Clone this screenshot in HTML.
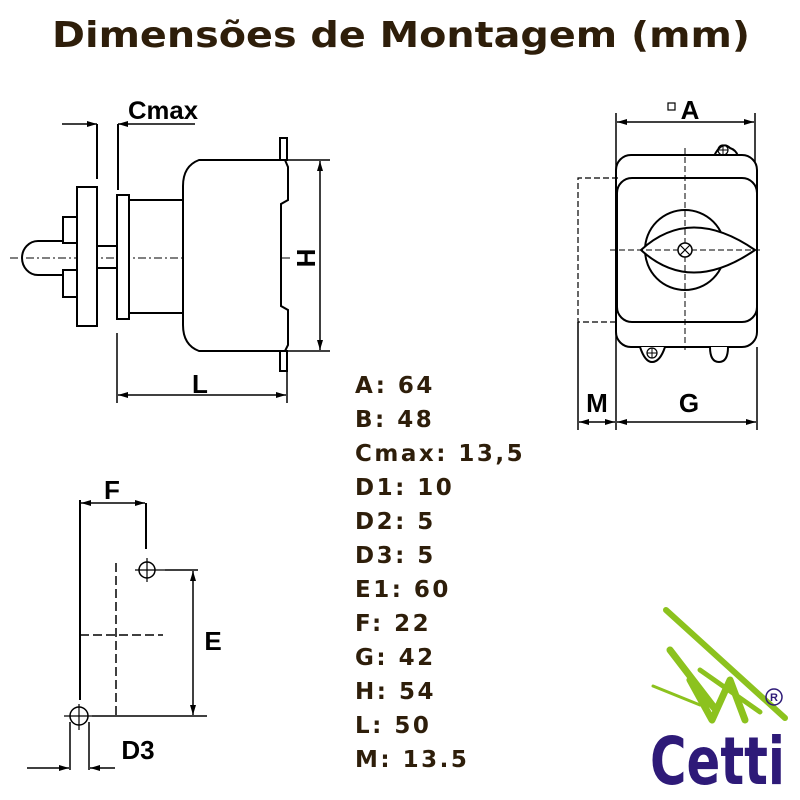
<!DOCTYPE html>
<html><head><meta charset="utf-8"><style>
html,body{margin:0;padding:0;background:#fff;}
svg{display:block;}
.t{font-family:"DejaVu Sans","Liberation Sans",sans-serif;font-weight:bold;fill:#2e1e0a;}
.l{font-family:"Liberation Sans",sans-serif;font-weight:bold;fill:#000;}
</style></head><body>
<svg width="800" height="800" viewBox="0 0 800 800" xmlns="http://www.w3.org/2000/svg">
<defs>
<marker id="ar" viewBox="0 0 10 6" refX="10" refY="3" markerWidth="10" markerHeight="6" markerUnits="userSpaceOnUse" orient="auto"><path d="M0,0 L10,3 L0,6 z" fill="#000"/></marker>
</defs>
<text class="t" x="52" y="47" font-size="36" textLength="698" lengthAdjust="spacingAndGlyphs">Dimensões de Montagem (mm)</text>

<g stroke="#000" stroke-width="2" fill="none">
<!-- side view -->
<line x1="10" y1="258" x2="292" y2="258" stroke-width="1" stroke-dasharray="8,3,2,3"/>
<line x1="62" y1="124" x2="97" y2="124" stroke-width="1.5" marker-end="url(#ar)"/>
<line x1="195" y1="124" x2="118" y2="124" stroke-width="1.5" marker-end="url(#ar)"/>
<line x1="97" y1="124" x2="97" y2="179"/>
<line x1="118" y1="124" x2="118" y2="190"/>
<rect x="77" y="187" width="20" height="139" fill="#fff"/>
<rect x="117" y="195" width="12" height="124" fill="#fff"/>
<rect x="97" y="246" width="20" height="22"/>
<rect x="63" y="217" width="14" height="26"/>
<rect x="63" y="270" width="14" height="27"/>
<path d="M63,241 L38,241 A16,17 0 0 0 38,275 L63,275"/>
<rect x="129" y="200" width="54" height="113"/>
<path d="M199,160 L285,160 L288,167 L288,200 L281,204 L281,306 L288,310 L288,345 L285,351 L199,351 Q183,345 183,325 L183,186 Q183,166 199,160 Z" fill="#fff"/>
<rect x="280" y="138" width="7" height="22"/>
<rect x="280" y="351" width="7" height="20"/>
<line x1="288" y1="160" x2="330" y2="160" stroke-width="1.5"/>
<line x1="288" y1="351" x2="330" y2="351" stroke-width="1.5"/>
<line x1="320" y1="258" x2="320" y2="161" stroke-width="1.5" marker-end="url(#ar)"/>
<line x1="320" y1="258" x2="320" y2="350" stroke-width="1.5" marker-end="url(#ar)"/>
<line x1="117" y1="333" x2="117" y2="403" stroke-width="1.5"/>
<line x1="287" y1="371" x2="287" y2="403" stroke-width="1.5"/>
<line x1="200" y1="395" x2="118" y2="395" stroke-width="1.5" marker-end="url(#ar)"/>
<line x1="200" y1="395" x2="286" y2="395" stroke-width="1.5" marker-end="url(#ar)"/>

<!-- front view -->
<line x1="616" y1="113" x2="616" y2="430" stroke-width="1.5"/>
<line x1="755" y1="113" x2="755" y2="163" stroke-width="1.5"/>
<line x1="685" y1="122" x2="617" y2="122" stroke-width="1.5" marker-end="url(#ar)"/>
<line x1="685" y1="122" x2="754" y2="122" stroke-width="1.5" marker-end="url(#ar)"/>
<rect x="668" y="103" width="7" height="7" stroke-width="1.2"/>
<path d="M714,156 Q722,140 730,148 Q736,150 738,156" fill="#fff"/>
<circle cx="723" cy="150" r="5" stroke-width="1.2"/><path d="M718,150h10M723,145v10" stroke-width="1"/>
<rect x="616" y="155" width="141" height="192" rx="15" fill="#fff"/>
<rect x="617" y="178" width="140" height="144" rx="15"/>
<path d="M618,178 L578,178 L578,322 L618,322" stroke-width="1.2" stroke-dasharray="6,3"/>
<line x1="578" y1="322" x2="578" y2="430" stroke-width="1.5"/>
<line x1="757" y1="347" x2="757" y2="430" stroke-width="1.5"/>
<circle cx="685" cy="250" r="40"/>
<path d="M641,250 Q690,205 755,250 Q690,295 641,250 Z" fill="#fff"/>
<line x1="685" y1="148" x2="685" y2="350" stroke-width="1" stroke-dasharray="6,3"/>
<line x1="610" y1="250" x2="762" y2="250" stroke-width="1" stroke-dasharray="6,3"/>
<circle cx="685" cy="250" r="7" fill="#fff" stroke-width="1.5"/>
<path d="M680,245 L690,255 M690,245 L680,255" stroke-width="1.2"/>
<path d="M640,347 Q645,362 652,362 Q660,362 665,347" fill="#fff"/>
<circle cx="652" cy="353" r="5" stroke-width="1.2"/><path d="M647,353h10M652,348v10" stroke-width="1"/>
<path d="M710,347 Q710,362 719,362 Q728,362 728,347" fill="#fff"/>
<line x1="597" y1="422" x2="579" y2="422" stroke-width="1.5" marker-end="url(#ar)"/>
<line x1="597" y1="422" x2="615" y2="422" stroke-width="1.5" marker-end="url(#ar)"/>
<line x1="686" y1="422" x2="617" y2="422" stroke-width="1.5" marker-end="url(#ar)"/>
<line x1="686" y1="422" x2="756" y2="422" stroke-width="1.5" marker-end="url(#ar)"/>

<!-- bottom-left -->
<line x1="80" y1="500" x2="80" y2="700"/>
<line x1="146" y1="503" x2="146" y2="549"/>
<line x1="113" y1="503" x2="81" y2="503" stroke-width="1.5" marker-end="url(#ar)"/>
<line x1="113" y1="503" x2="145" y2="503" stroke-width="1.5" marker-end="url(#ar)"/>
<circle cx="147" cy="570" r="8" stroke-width="1.5"/>
<path d="M135,570h30M147,558v24" stroke-width="1.2"/>
<line x1="116" y1="563" x2="116" y2="717" stroke-width="1.5" stroke-dasharray="9,4"/>
<line x1="80" y1="635" x2="163" y2="635" stroke-width="1.5" stroke-dasharray="9,4"/>
<line x1="165" y1="570" x2="198" y2="570" stroke-width="1.5"/>
<line x1="92" y1="716" x2="207" y2="716" stroke-width="1.5"/>
<line x1="193" y1="643" x2="193" y2="571" stroke-width="1.5" marker-end="url(#ar)"/>
<line x1="193" y1="643" x2="193" y2="715" stroke-width="1.5" marker-end="url(#ar)"/>
<circle cx="79" cy="716" r="9" stroke-width="1.5"/>
<path d="M64,716h28M79,704v26" stroke-width="1.2"/>
<line x1="70" y1="722" x2="70" y2="770" stroke-width="1.5"/>
<line x1="89" y1="722" x2="89" y2="770" stroke-width="1.5"/>
<line x1="27" y1="768" x2="69" y2="768" stroke-width="1.5" marker-end="url(#ar)"/>
<line x1="115" y1="768" x2="90" y2="768" stroke-width="1.5" marker-end="url(#ar)"/>
</g>

<text class="l" x="128" y="119" font-size="25" textLength="70" lengthAdjust="spacingAndGlyphs">Cmax</text>
<text class="l" x="0" y="0" font-size="26" transform="translate(297,258) rotate(90)" text-anchor="middle">H</text>
<text class="l" x="200" y="393" font-size="26" text-anchor="middle">L</text>
<text class="l" x="690" y="119" font-size="26" text-anchor="middle">A</text>
<text class="l" x="597" y="412" font-size="26" text-anchor="middle">M</text>
<text class="l" x="689" y="412" font-size="26" text-anchor="middle">G</text>
<text class="l" x="112" y="499" font-size="26" text-anchor="middle">F</text>
<text class="l" x="213" y="650" font-size="26" text-anchor="middle">E</text>
<text class="l" x="138" y="759" font-size="26" text-anchor="middle">D3</text>

<g class="t" font-size="23" style="letter-spacing:2.5px">
<text x="355" y="393">A: 64</text>
<text x="355" y="427">B: 48</text>
<text x="355" y="461">Cmax: 13,5</text>
<text x="355" y="495">D1: 10</text>
<text x="355" y="529">D2: 5</text>
<text x="355" y="563">D3: 5</text>
<text x="355" y="597">E1: 60</text>
<text x="355" y="631">F: 22</text>
<text x="355" y="665">G: 42</text>
<text x="355" y="699">H: 54</text>
<text x="355" y="733">L: 50</text>
<text x="355" y="767">M: 13.5</text>
</g>

<!-- logo -->
<g fill="none" stroke="#8cc21e" stroke-linecap="round" stroke-linejoin="round">
<path d="M666,610 L785,718" stroke-width="6"/>
<path d="M670,650 L716,710 L690,680 L712,720 L730,680 L745,720" stroke-width="7"/>
<path d="M653,686 L700,705" stroke-width="3"/>
<path d="M700,670 L760,712" stroke-width="5"/>
</g>
<circle cx="774" cy="697" r="8" fill="none" stroke="#2e1a78" stroke-width="1.5"/>
<text x="774" y="701" font-size="11" text-anchor="middle" font-family="Liberation Sans,sans-serif" font-weight="bold" fill="#2e1a78">R</text>
<text x="650" y="784" font-size="66" font-family="DejaVu Sans,sans-serif" font-weight="bold" fill="#2e1a78" textLength="135" lengthAdjust="spacingAndGlyphs">Cetti</text>
</svg>
</body></html>
